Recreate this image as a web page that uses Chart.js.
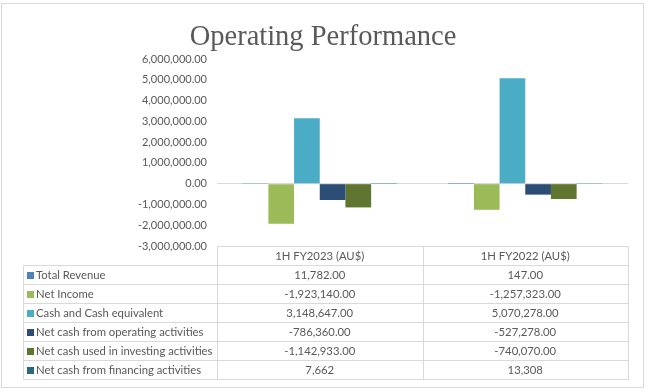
<!DOCTYPE html>
<html>
<head>
<meta charset="utf-8">
<script src="https://cdn.jsdelivr.net/npm/chart.js@4.4.1/dist/chart.umd.min.js"></script>
<style>
html,body{margin:0;padding:0;background:#fff;}
#wrap{width:649px;height:392px;position:relative;}
</style>
</head>
<body>
<div id="wrap"><canvas id="c" width="649" height="392"></canvas></div>
<script>
// ---- data ----
const categories = ['1H FY2023 (AU$)', '1H FY2022 (AU$)'];
const seriesNames = ['Total Revenue', 'Net Income', 'Cash and Cash equivalent',
  'Net cash from operating activities', 'Net cash used in investing activities',
  'Net cash from financing activities'];
const totalRevenue = [11782, 147];
const netIncome = [-1923140, -1257323];
const cashEquivalent = [3148647, 5070278];
const netCashOperating = [-786360, -527278];
const netCashInvesting = [-1142933, -740070];
const netCashFinancing = [7662, 13308];
// table text as shown in the data table
const tableText = [
  ['11,782.00', '147.00'],
  ['-1,923,140.00', '-1,257,323.00'],
  ['3,148,647.00', '5,070,278.00'],
  ['-786,360.00', '-527,278.00'],
  ['-1,142,933.00', '-740,070.00'],
  ['7,662', '13,308']
];
const yTicks = {min: -3000000, max: 6000000, step: 1000000};
const seriesColors = ['#4F81BD', '#9BBB59', '#4BACC6', '#2C4D75', '#5F7530', '#276A7C'];
const titleText = 'Operating Performance';

const seriesValues = [totalRevenue, netIncome, cashEquivalent, netCashOperating, netCashInvesting, netCashFinancing];

const fmt = v => v.toLocaleString('en-US', {minimumFractionDigits: 2, maximumFractionDigits: 2});

const LINE = '#D9D9D9';
const TXT = '#595959';
const TABLE_FONT = '11.3px Lato';

const frame = {
  id: 'frame',
  beforeDraw(chart) {
    const ctx = chart.ctx;
    ctx.save();
    ctx.fillStyle = '#fff';
    ctx.fillRect(0, 0, chart.width, chart.height);
    ctx.strokeStyle = LINE;
    ctx.lineWidth = 1;
    ctx.strokeRect(1.5, 3.5, 642, 384);
    ctx.font = '28.5px "Liberation Serif"';
    ctx.fillStyle = TXT;
    ctx.textAlign = 'center';
    ctx.textBaseline = 'alphabetic';
    ctx.fillText(titleText, 323, 45);
    ctx.restore();
  }
};

const dataTable = {
  id: 'dataTable',
  afterDraw(chart) {
    const ctx = chart.ctx;
    const a = chart.chartArea;
    const xs = chart.scales.x;
    const colL = a.left, colR = a.right;
    const colMid = (xs.getPixelForValue(0) + xs.getPixelForValue(1)) / 2;
    const labelL = 23;
    const top = a.bottom;
    const headH = 19, rowH = 19;
    const rowsTop = top + headH;
    const bottom = rowsTop + rowH * seriesNames.length;
    const px = v => Math.round(v) + 0.5;
    ctx.save();
    ctx.strokeStyle = LINE;
    ctx.lineWidth = 1;
    ctx.beginPath();
    ctx.moveTo(px(colL), px(top)); ctx.lineTo(px(colR), px(top));
    for (let i = 0; i <= seriesNames.length; i++) {
      const y = px(rowsTop + i * rowH);
      ctx.moveTo(px(labelL), y); ctx.lineTo(px(colR), y);
    }
    [colL, colMid, colR].forEach(x => { ctx.moveTo(px(x), px(top)); ctx.lineTo(px(x), px(bottom)); });
    ctx.moveTo(px(labelL), px(rowsTop)); ctx.lineTo(px(labelL), px(bottom));
    ctx.stroke();

    ctx.font = TABLE_FONT;
    ctx.fillStyle = TXT;
    ctx.textBaseline = 'middle';
    ctx.textAlign = 'center';
    const centers = [(colL + colMid) / 2, (colMid + colR) / 2];
    categories.forEach((c, j) => ctx.fillText(c, centers[j], top + headH / 2 + 1));
    seriesNames.forEach((n, i) => {
      const yc = rowsTop + i * rowH + rowH / 2 + 1;
      ctx.fillStyle = seriesColors[i];
      ctx.fillRect(labelL + 4, Math.round(yc) - 4, 7, 7);
      ctx.fillStyle = TXT;
      ctx.textAlign = 'left';
      ctx.fillText(n, labelL + 13, yc);
      ctx.textAlign = 'center';
      tableText[i].forEach((t, j) => ctx.fillText(t, centers[j], yc));
    });
    ctx.restore();
  }
};

new Chart(document.getElementById('c'), {
  type: 'bar',
  data: {
    labels: categories,
    datasets: seriesNames.map((n, i) => ({
      label: n,
      data: seriesValues[i],
      backgroundColor: seriesColors[i],
      borderWidth: 0,
      categoryPercentage: 0.75,
      barPercentage: 1
    }))
  },
  options: {
    responsive: false,
    animation: false,
    events: [],
    layout: {padding: {top: 59, left: 0, right: 21, bottom: 146}},
    plugins: {
      legend: {display: false},
      tooltip: {enabled: false},
      title: {display: false}
    },
    scales: {
      x: {display: false},
      y: {
        min: yTicks.min, max: yTicks.max,
        afterFit(s) { s.width = 217; },
        border: {display: false},
        grid: {
          drawTicks: false,
          color: ctx => (ctx.tick && ctx.tick.value === 0) ? LINE : 'rgba(0,0,0,0)',
          lineWidth: 1
        },
        ticks: {
          stepSize: yTicks.step,
          padding: 10,
          color: TXT,
          font: {family: 'Lato', size: 11},
          callback: v => fmt(v)
        }
      }
    }
  },
  plugins: [frame, dataTable]
});
</script>
</body>
</html>
